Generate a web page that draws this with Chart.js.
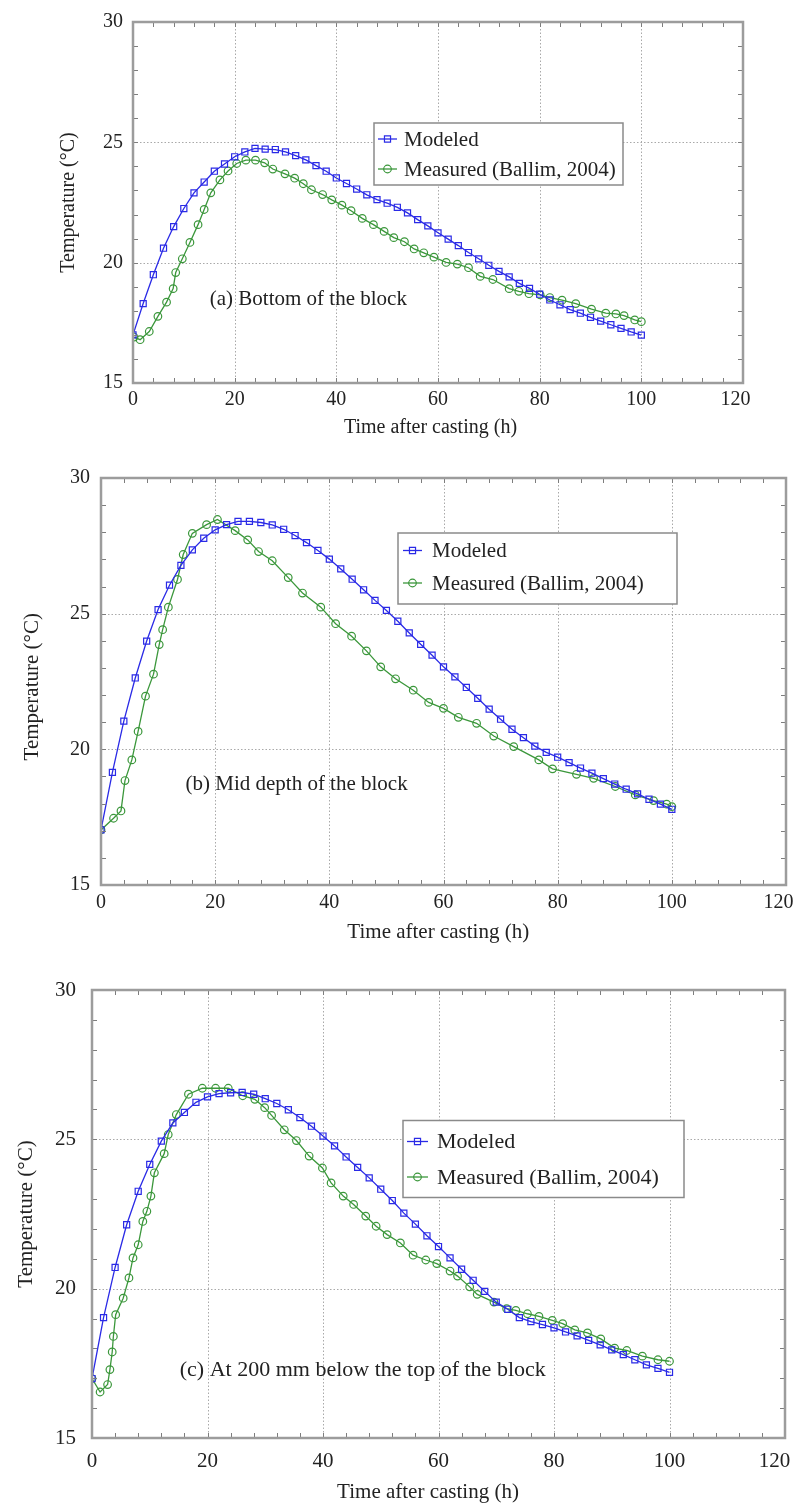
<!DOCTYPE html>
<html lang="en">
<head>
    <meta charset="utf-8" />
    <title>Temperature after casting</title>
    <style>
        body {
            margin: 0;
            background: #fff;
            width: 798px;
            height: 1508px;
            overflow: hidden;
            position: relative;
        }
        canvas {
            position: absolute;
            left: 0;
        }
    </style>
</head>
<body>
    <canvas id="chartA" width="798" height="450" style="top:0px"></canvas>
    <canvas id="chartB" width="798" height="500" style="top:455px"></canvas>
    <canvas id="chartC" width="798" height="548" style="top:960px"></canvas>

    <script src="https://cdn.jsdelivr.net/npm/chart.js@4.4.0/dist/chart.umd.min.js"></script>
    <script>
        // ---- data ----
        var xTicks = [0, 20, 40, 60, 80, 100, 120];
        var yTicks = [15, 20, 25, 30];
        var seriesNames = ["Modeled", "Measured (Ballim, 2004)"];
        var xTitle = "Time after casting (h)";
        var yTitle = "Temperature (\u00B0C)";

        // modeled curves are sampled every 2 h
        var modTime = [0, 2, 4, 6, 8, 10, 12, 14, 16, 18, 20, 22, 24, 26, 28, 30, 32, 34, 36, 38, 40, 42, 44, 46, 48, 50,
            52, 54, 56, 58, 60, 62, 64, 66, 68, 70, 72, 74, 76, 78, 80, 82, 84, 86, 88, 90, 92, 94, 96, 98, 100];

        // (a) bottom of the block
        var modA = [17.0, 18.3, 19.5, 20.6, 21.5, 22.25, 22.9, 23.35, 23.8, 24.1, 24.4, 24.6, 24.75, 24.72, 24.7, 24.6,
            24.45, 24.27, 24.03, 23.8, 23.52, 23.29, 23.06, 22.82, 22.62, 22.47, 22.3, 22.07, 21.79, 21.53, 21.24, 20.98,
            20.71, 20.42, 20.16, 19.89, 19.64, 19.41, 19.14, 18.93, 18.69, 18.45, 18.25, 18.05, 17.9, 17.73, 17.57,
            17.42, 17.27, 17.12, 16.99];
        var meaTimeA = [0.2, 1.4, 3.2, 4.9, 6.6, 7.9, 8.4, 9.7, 11.2, 12.8, 14, 15.3, 17.1, 18.7, 20.4, 22.2, 24.1, 25.9,
            27.5, 29.9, 31.8, 33.5, 35.1, 37.3, 39.1, 41.1, 42.9, 45.1, 47.3, 49.4, 51.3, 53.4, 55.3, 57.2, 59.2, 61.6,
            63.8, 66, 68.3, 70.8, 74, 75.9, 77.9, 80.1, 82, 84.4, 87.1, 90.2, 93, 95, 96.6, 98.7, 100];
        var meaA = [16.91, 16.8, 17.14, 17.77, 18.36, 18.92, 19.59, 20.16, 20.84, 21.58, 22.21, 22.9, 23.44, 23.81, 24.12,
            24.26, 24.26, 24.15, 23.89, 23.69, 23.51, 23.28, 23.03, 22.83, 22.61, 22.39, 22.16, 21.84, 21.58, 21.3, 21.04,
            20.87, 20.57, 20.41, 20.23, 20.01, 19.94, 19.79, 19.43, 19.3, 18.92, 18.81, 18.71, 18.66, 18.55, 18.44, 18.3,
            18.07, 17.9, 17.87, 17.8, 17.62, 17.55];

        // (b) mid depth of the block
        var modB = [17.03, 19.15, 21.04, 22.63, 23.99, 25.15, 26.05, 26.78, 27.35, 27.78, 28.09, 28.28, 28.4, 28.4, 28.36,
            28.27, 28.11, 27.88, 27.62, 27.33, 27.01, 26.65, 26.27, 25.88, 25.49, 25.12, 24.72, 24.29, 23.87, 23.47,
            23.04, 22.67, 22.28, 21.88, 21.48, 21.11, 20.74, 20.43, 20.12, 19.89, 19.71, 19.51, 19.31, 19.12, 18.92,
            18.72, 18.53, 18.36, 18.16, 17.98, 17.79];
        var meaTimeB = [0, 2.2, 3.5, 4.2, 5.4, 6.5, 7.8, 9.2, 10.2, 10.8, 11.8, 13.4, 14.4, 16, 18.5, 20.4, 23.5, 25.7,
            27.6, 30, 32.8, 35.3, 38.5, 41.1, 43.9, 46.5, 49, 51.6, 54.7, 57.4, 60, 62.6, 65.8, 68.8, 72.3, 76.7, 79.1,
            83.3, 86.3, 90.1, 93.6, 96.8, 99.1, 100];
        var meaB = [17.03, 17.46, 17.73, 18.85, 19.61, 20.66, 21.96, 22.77, 23.86, 24.41, 25.24, 26.26, 27.18, 27.96,
            28.28, 28.47, 28.06, 27.72, 27.29, 26.95, 26.33, 25.76, 25.24, 24.63, 24.17, 23.63, 23.04, 22.6, 22.18, 21.73,
            21.51, 21.18, 20.96, 20.49, 20.1, 19.61, 19.28, 19.08, 18.93, 18.63, 18.32, 18.11, 17.98, 17.89];

        // (c) 200 mm below the top
        var modC = [16.99, 19.03, 20.71, 22.14, 23.26, 24.16, 24.94, 25.55, 25.9, 26.24, 26.42, 26.53, 26.56, 26.57,
            26.51, 26.36, 26.2, 25.99, 25.73, 25.44, 25.11, 24.78, 24.41, 24.06, 23.71, 23.33, 22.95, 22.53, 22.16, 21.77,
            21.41, 21.03, 20.65, 20.28, 19.91, 19.55, 19.31, 19.03, 18.9, 18.8, 18.69, 18.55, 18.42, 18.27, 18.12, 17.95,
            17.79, 17.62, 17.45, 17.33, 17.2];
        var meaTimeC = [0, 1.4, 2.7, 3.1, 3.5, 3.7, 4.1, 5.4, 6.4, 7.1, 8, 8.8, 9.5, 10.2, 10.8, 12.5, 13.2, 14.6, 16.7,
            19.1, 21.4, 23.6, 26.1, 28.2, 29.9, 31.1, 33.3, 35.4, 37.6, 39.9, 41.4, 43.5, 45.3, 47.4, 49.2, 51.1, 53.4,
            55.6, 57.8, 59.7, 62, 63.3, 65.4, 66.7, 69.6, 71.8, 73.4, 75.4, 77.4, 79.7, 81.5, 83.6, 85.8, 88.1, 90.5,
            92.6, 95.3, 98, 100];
        var meaC = [16.99, 16.54, 16.79, 17.29, 17.88, 18.4, 19.13, 19.68, 20.36, 21.03, 21.47, 22.25, 22.59, 23.1, 23.88,
            24.52, 25.16, 25.83, 26.51, 26.71, 26.71, 26.71, 26.46, 26.34, 26.06, 25.8, 25.32, 24.96, 24.44, 24.04, 23.54,
            23.1, 22.82, 22.43, 22.09, 21.81, 21.53, 21.12, 20.96, 20.84, 20.59, 20.42, 20.06, 19.81, 19.55, 19.33, 19.27,
            19.16, 19.07, 18.94, 18.83, 18.62, 18.52, 18.32, 18.01, 17.93, 17.74, 17.62, 17.57];

        // ---- look ----
        var BLUE = "#2a2ae6";
        var GREEN = "#3b973b";
        var INK = "#222";
        var SERIF = '"Liberation Serif", "Times New Roman", serif';
        var NBSP = "\u00A0";

        Chart.defaults.font.family = SERIF;
        Chart.defaults.color = INK;

        // frame, dotted grid, inward ticks, note and boxed legend
        var framePlugin = {
            id: "frame",
            beforeDatasetsDraw: function (chart) {
                var ctx = chart.ctx, a = chart.chartArea, sx = chart.scales.x, sy = chart.scales.y;
                ctx.save();
                ctx.strokeStyle = "#a9a9a9";
                ctx.lineWidth = 1;
                ctx.setLineDash([1.5, 2]);
                xTicks.forEach(function (v) {
                    if (v <= sx.min || v >= sx.max) return;
                    var px = Math.round(sx.getPixelForValue(v)) + 0.5;
                    ctx.beginPath(); ctx.moveTo(px, a.top); ctx.lineTo(px, a.bottom); ctx.stroke();
                });
                yTicks.forEach(function (v) {
                    if (v <= sy.min || v >= sy.max) return;
                    var py = Math.round(sy.getPixelForValue(v)) + 0.5;
                    ctx.beginPath(); ctx.moveTo(a.left, py); ctx.lineTo(a.right, py); ctx.stroke();
                });
                ctx.restore();
            },
            afterDraw: function (chart, args, p) {
                var ctx = chart.ctx, a = chart.chartArea, sx = chart.scales.x, sy = chart.scales.y;
                ctx.save();
                // minor ticks pointing inward on all four sides
                ctx.strokeStyle = "#7d7d7d";
                ctx.lineWidth = 1;
                var v, px, py;
                for (v = sx.min; v <= sx.max; v += 4) {
                    px = Math.round(sx.getPixelForValue(v)) + 0.5;
                    ctx.beginPath();
                    ctx.moveTo(px, a.bottom); ctx.lineTo(px, a.bottom - 5);
                    ctx.moveTo(px, a.top); ctx.lineTo(px, a.top + 5);
                    ctx.stroke();
                }
                for (v = sy.min; v <= sy.max; v += 1) {
                    py = Math.round(sy.getPixelForValue(v)) + 0.5;
                    ctx.beginPath();
                    ctx.moveTo(a.left, py); ctx.lineTo(a.left + 5, py);
                    ctx.moveTo(a.right, py); ctx.lineTo(a.right - 5, py);
                    ctx.stroke();
                }
                // plot frame
                ctx.strokeStyle = "#9c9c9c";
                ctx.lineWidth = 2.5;
                ctx.strokeRect(a.left, a.top, a.right - a.left, a.bottom - a.top);

                // panel note
                ctx.fillStyle = INK;
                ctx.font = p.note.size + "px " + SERIF;
                ctx.textAlign = "left";
                ctx.textBaseline = "middle";
                ctx.fillText(p.note.text, sx.getPixelForValue(p.note.t), sy.getPixelForValue(p.note.v));

                // legend box
                var L = p.legend;
                ctx.fillStyle = "#fff";
                ctx.fillRect(L.x, L.y, L.w, L.h);
                ctx.strokeStyle = "#8a8a8a";
                ctx.lineWidth = 1.5;
                ctx.strokeRect(L.x, L.y, L.w, L.h);
                ctx.font = L.size + "px " + SERIF;
                chart.data.datasets.forEach(function (ds, i) {
                    var ry = L.rows[i];
                    ctx.strokeStyle = ds.borderColor;
                    ctx.lineWidth = ds.borderWidth;
                    ctx.beginPath(); ctx.moveTo(L.x1, ry); ctx.lineTo(L.x2, ry); ctx.stroke();
                    ctx.lineWidth = ds.pointBorderWidth;
                    ctx.fillStyle = "rgba(0,0,0,0)";
                    Chart.helpers.drawPoint(ctx, {
                        pointStyle: ds.pointStyle, radius: ds.pointRadius,
                        borderWidth: ds.pointBorderWidth, rotation: 0
                    }, (L.x1 + L.x2) / 2, ry);
                    ctx.fillStyle = INK;
                    ctx.fillText(ds.label, L.tx, ry + 1);
                });
                ctx.restore();
            }
        };

        function points(ts, vs) {
            return ts.map(function (t, i) { return { x: t, y: vs[i] }; });
        }

        function makeChart(id, p) {
            return new Chart(document.getElementById(id), {
                type: "scatter",
                data: {
                    datasets: [{
                        label: seriesNames[0],
                        data: points(modTime, p.mod),
                        showLine: true,
                        borderColor: BLUE,
                        borderWidth: 1.3,
                        pointStyle: "rect",
                        pointRadius: 4.3,
                        pointBorderWidth: 1.2,
                        pointBorderColor: BLUE,
                        pointBackgroundColor: "rgba(0,0,0,0)"
                    }, {
                        label: seriesNames[1],
                        data: points(p.meaT, p.mea),
                        showLine: true,
                        borderColor: GREEN,
                        borderWidth: 1.3,
                        pointStyle: "circle",
                        pointRadius: 3.8,
                        pointBorderWidth: 1.2,
                        pointBorderColor: GREEN,
                        pointBackgroundColor: "rgba(0,0,0,0)"
                    }]
                },
                options: {
                    responsive: false,
                    animation: false,
                    layout: {
                        autoPadding: false,
                        padding: { left: 0, top: p.plot.top, right: 798 - p.plot.right, bottom: 0 }
                    },
                    plugins: {
                        legend: { display: false },
                        tooltip: { enabled: false },
                        frame: p
                    },
                    scales: {
                        x: {
                            type: "linear",
                            min: 0,
                            max: 120,
                            afterBuildTicks: function (s) { s.ticks = xTicks.map(function (v) { return { value: v }; }); },
                            afterFit: function (s) {
                                s.height = p.H - p.plot.bottom;
                                // keep the plot width fixed even if the end labels overhang
                                s.paddingLeft = 0;
                                s.paddingRight = 0;
                            },
                            grid: { display: false, drawTicks: false },
                            border: { display: false },
                            ticks: {
                                padding: p.xTickPad,
                                font: { size: p.tickSize },
                                color: INK,
                                // the last label sits a little inside the frame edge
                                callback: function (v) {
                                    return v === 120 ? "120" + NBSP.repeat(p.lastPad) : String(v);
                                }
                            },
                            title: {
                                display: true,
                                // trailing gap nudges the centred title slightly left, as in the figure
                                text: xTitle + NBSP.repeat(p.xTitleNudge),
                                font: { size: p.titleSize },
                                color: INK,
                                padding: { top: 0, bottom: p.xTitlePad }
                            }
                        },
                        y: {
                            type: "linear",
                            min: 15,
                            max: 30,
                            afterBuildTicks: function (s) { s.ticks = yTicks.map(function (v) { return { value: v }; }); },
                            afterFit: function (s) { s.width = p.plot.left; },
                            grid: { display: false, drawTicks: false },
                            border: { display: false },
                            ticks: { padding: p.yTickPad, font: { size: p.tickSize }, color: INK },
                            title: {
                                display: true,
                                text: yTitle + NBSP.repeat(p.yTitleNudge),
                                font: { size: p.titleSize },
                                color: INK,
                                padding: { top: p.yTitlePad, bottom: 0 }
                            }
                        }
                    }
                },
                plugins: [framePlugin]
            });
        }

        makeChart("chartA", {
            mod: modA, meaT: meaTimeA, mea: meaA,
            H: 450, plot: { left: 133, top: 17, right: 743, bottom: 383 },
            tickSize: 20, titleSize: 20, xTickPad: 5, yTickPad: 10, xTitlePad: 10, yTitlePad: 57,
            lastPad: 3, xTitleNudge: 3, yTitleNudge: 0,
            note: { text: "(a) Bottom of the block", t: 15.1, v: 18.45, size: 21 },
            legend: { x: 374, y: 123, w: 249, h: 62, rows: [139, 169], x1: 378, x2: 397, tx: 404, size: 21 }
        });

        makeChart("chartB", {
            mod: modB, meaT: meaTimeB, mea: meaB,
            H: 500, plot: { left: 101, top: 22, right: 786, bottom: 430 },
            tickSize: 20, titleSize: 21, xTickPad: 6, yTickPad: 11, xTitlePad: 10, yTitlePad: 20,
            lastPad: 3, xTitleNudge: 2, yTitleNudge: 2,
            note: { text: "(b) Mid depth of the block", t: 14.8, v: 18.69, size: 21 },
            legend: { x: 398, y: 78, w: 279, h: 71, rows: [95.5, 128], x1: 403, x2: 422, tx: 432, size: 21 }
        });

        makeChart("chartC", {
            mod: modC, meaT: meaTimeC, mea: meaC,
            H: 548, plot: { left: 92, top: 30, right: 785, bottom: 478 },
            tickSize: 21, titleSize: 21, xTickPad: 11, yTickPad: 16, xTitlePad: 3, yTitlePad: 14,
            lastPad: 4, xTitleNudge: 4, yTitleNudge: 0,
            note: { text: "(c) At 200 mm below the top of the block", t: 15.2, v: 17.27, size: 22 },
            legend: { x: 403, y: 160.5, w: 281, h: 77, rows: [181.5, 217], x1: 407, x2: 428, tx: 437, size: 22 }
        });
    </script>
</body>
</html>
